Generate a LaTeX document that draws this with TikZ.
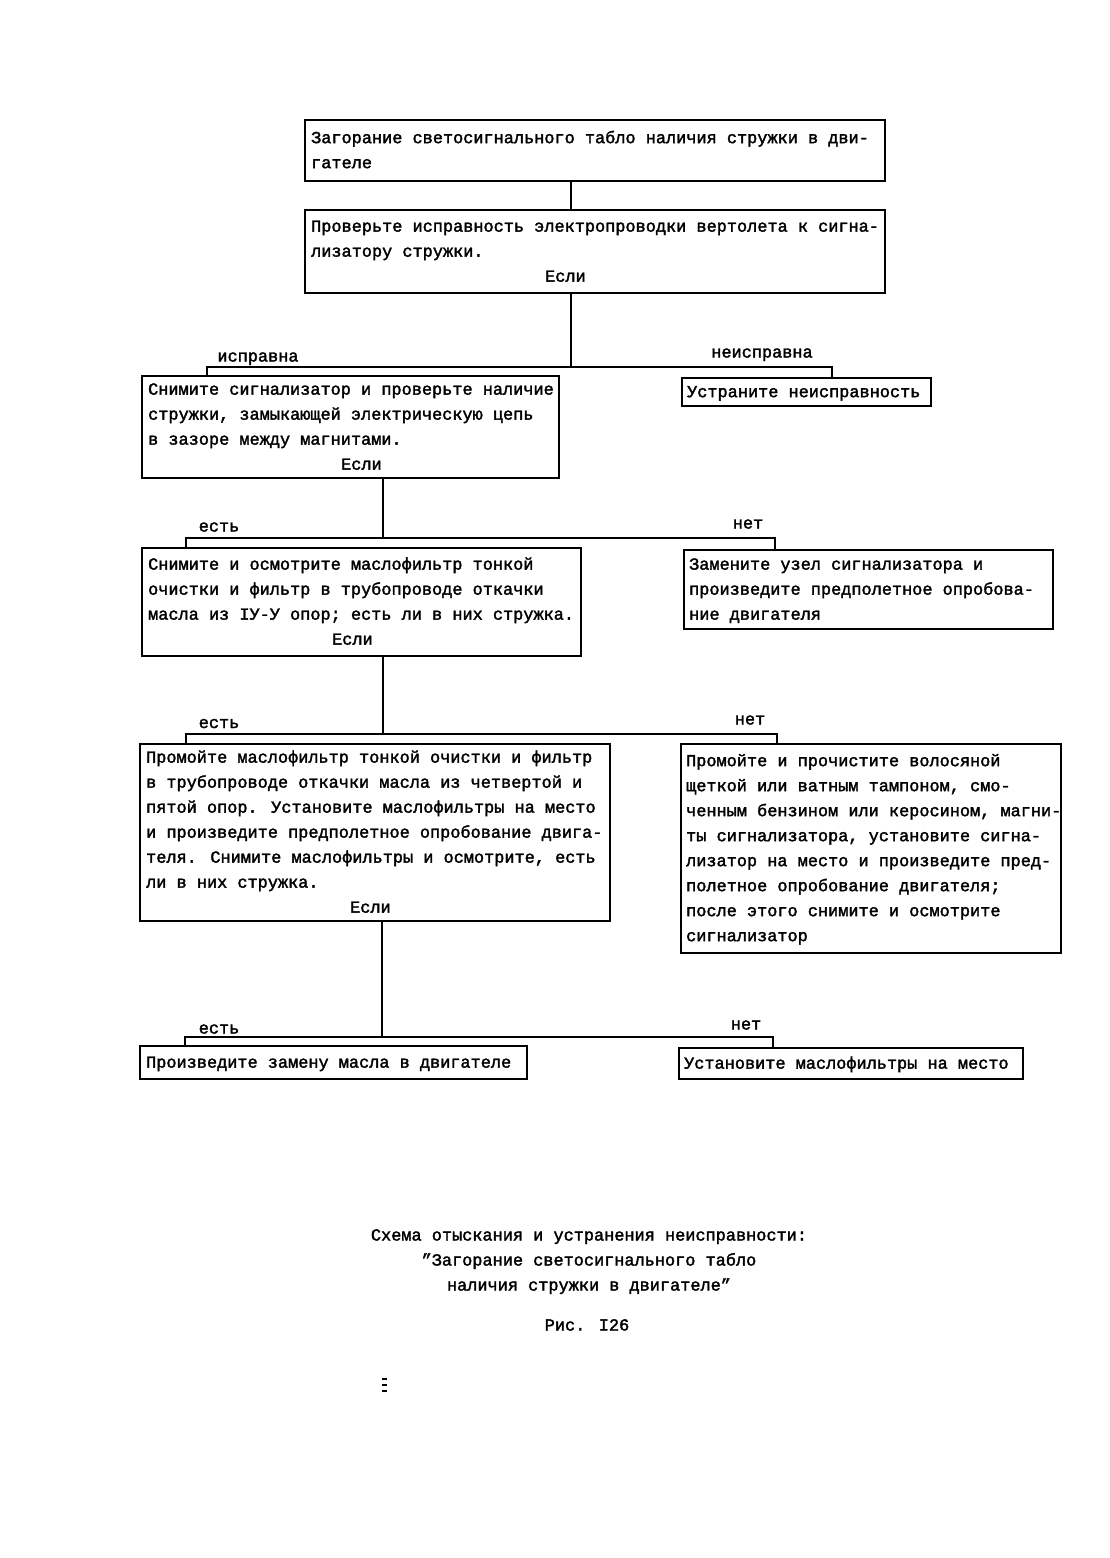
\documentclass[tikz,border=0pt]{standalone}
\usepackage{fontspec}
\setmainfont{Liberation Mono}[FakeBold=2]
\newcommand\btext[2]{\makebox[#1][l]{\begin{tabular}{@{}l@{}}#2\end{tabular}}}
\begin{document}
\begin{tikzpicture}[x=1pt,y=-1pt,
  every node/.style={font=\fontsize{16.9}{25}\selectfont, inner sep=0pt},
  box/.style={draw, line width=2.3pt, anchor=north west,
    inner xsep=6pt, inner ysep=1pt},
  conn/.style={line width=2pt},
  lbl/.style={anchor=base}]
\useasboundingbox (0,0) rectangle (1110,1558);

% boxes
\node[box, minimum width=580pt, minimum height=61pt] (b1) at (304,119)
  {\btext{568pt}{Загорание светосигнального табло наличия стружки в дви-\\гателе}};
\node[box, minimum width=580pt, minimum height=83pt] (b2) at (304,209)
  {\btext{568pt}{Проверьте исправность электропроводки вертолета к сигна-\\лизатору стружки.\\\hspace*{234pt}Если}};
\node[box, minimum width=417pt, minimum height=101pt] (b3) at (141,375)
  {\btext{405pt}{Снимите сигнализатор и проверьте наличие\\стружки, замыкающей электрическую цепь\\в зазоре между магнитами.\\\hspace*{193pt}Если}};
\node[box, inner xsep=5pt, minimum width=249pt, minimum height=28pt] (b4) at (681,377)
  {\btext{239pt}{Устраните неисправность}};
\node[box, minimum width=439pt, minimum height=108pt] (b5) at (141,547)
  {\btext{427pt}{Снимите и осмотрите маслофильтр тонкой\\очистки и фильтр в трубопроводе откачки\\масла из IУ-У опор; есть ли в них стружка.\\\hspace*{184pt}Если}};
\node[box, inner xsep=5pt, minimum width=369pt, minimum height=79pt] (b6) at (683,549)
  {\btext{359pt}{Замените узел сигнализатора и\\произведите предполетное опробова-\\ние двигателя}};
\node[box, minimum width=470pt, minimum height=177pt] (b7) at (139,743)
  {\btext{458pt}{Промойте маслофильтр тонкой очистки и фильтр\\в трубопроводе откачки масла из четвертой и\\пятой опор. Установите маслофильтры на место\\и произведите предполетное опробование двига-\\теля. Снимите маслофильтры и осмотрите, есть\\ли в них стружка.\\\hspace*{204pt}Если}};
\node[box, inner xsep=5pt, minimum width=380pt, minimum height=209pt] (b8) at (680,743)
  {\btext{370pt}{Промойте и прочистите волосяной\\щеткой или ватным тампоном, смо-\\ченным бензином или керосином, магни-\\ты сигнализатора, установите сигна-\\лизатор на место и произведите пред-\\полетное опробование двигателя;\\после этого снимите и осмотрите\\сигнализатор}};
\node[box, minimum width=387pt, minimum height=33pt] (b9) at (139,1045)
  {\btext{375pt}{Произведите замену масла в двигателе}};
\node[box, inner xsep=5pt, minimum width=344pt, minimum height=31pt] (b10) at (678,1047)
  {\btext{334pt}{Установите маслофильтры на место}};

% junction coordinates
\coordinate (t1) at (571,367);
\coordinate (l1) at (207,367);
\coordinate (r1) at (832,367);
\coordinate (t2) at (383,538);
\coordinate (l2) at (186,538);
\coordinate (r2) at (775,538);
\coordinate (t3) at (383,734);
\coordinate (l3) at (186,734);
\coordinate (r3) at (777,734);
\coordinate (t4) at (382,1037);
\coordinate (l4) at (185,1037);
\coordinate (r4) at (773,1037);

% connectors
\draw[conn] (b1.south -| t1) -- (b2.north -| t1);
\draw[conn] (b2.south -| t1) -- (t1);
\draw[conn] (b3.north -| l1) -- (l1) -- (r1) -- (b4.north -| r1);
\draw[conn] (b3.south -| t2) -- (t2);
\draw[conn] (b5.north -| l2) -- (l2) -- (r2) -- (b6.north -| r2);
\draw[conn] (b5.south -| t3) -- (t3);
\draw[conn] (b7.north -| l3) -- (l3) -- (r3) -- (b8.north -| r3);
\draw[conn] (b7.south -| t4) -- (t4);
\draw[conn] (b9.north -| l4) -- (l4) -- (r4) -- (b10.north -| r4);

% branch labels
\node[lbl] (la1) at (258,361.5) {исправна};
\node[lbl] (lb1) at (762,357.5) {неисправна};
\node[lbl] (la2) at (219,531.5) {есть};
\node[lbl] (lb2) at (748,528.5) {нет};
\node[lbl] (la3) at (219,728) {есть};
\node[lbl] (lb3) at (750,724.5) {нет};
\node[lbl] (la4) at (219,1033.5) {есть};
\node[lbl] (lb4) at (746,1029.5) {нет};

% caption
\node[anchor=north, align=center, execute at begin node=\strut, execute at end node=\strut] (cap) at (589,1229)
  {Схема отыскания и устранения неисправности:\\"Загорание светосигнального табло\\наличия стружки в двигателе"};
\node[lbl] (fig) at (587,1330.5) {Рис. I26};

% small mark
\draw[line width=2pt] (382,1379) -- (387,1379);
\draw[line width=2pt] (382,1385) -- (387,1385);
\draw[line width=2pt] (382,1391) -- (387,1391);
\end{tikzpicture}
\end{document}
